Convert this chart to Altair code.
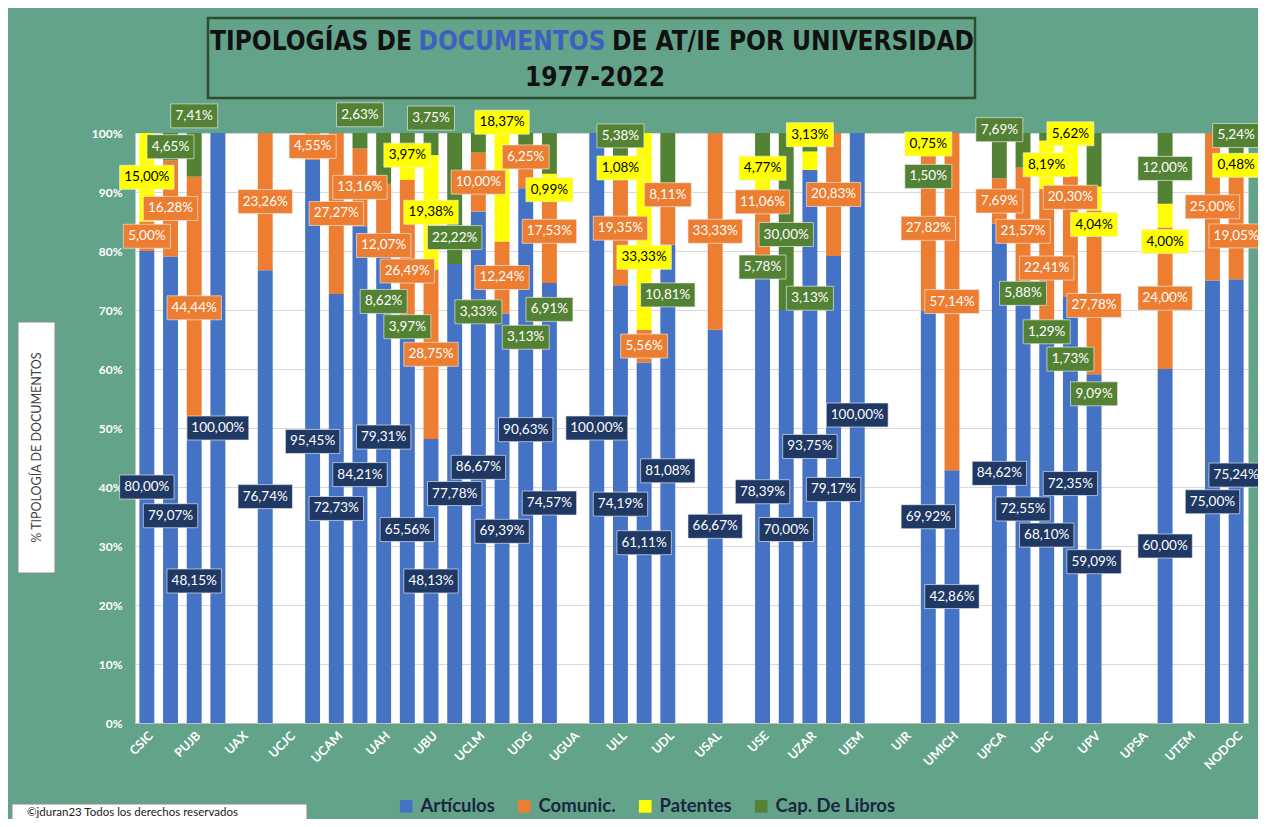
import json
import altair as alt
import pandas as pd

# ---------------- data ----------------
etiquetas = ["CSIC", "", "PUJB", "", "UAX", "", "UCJC", "", "UCAM", "", "UAH", "",
             "UBU", "", "UCLM", "", "UDG", "", "UGUA", "", "ULL", "", "UDL", "",
             "USAL", "", "USE", "", "UZAR", "", "UEM", "", "UIR", "", "UMICH", "",
             "UPCA", "", "UPC", "", "UPV", "", "UPSA", "", "UTEM", "", "NODOC"]

articulos = [80.00, 79.07, 48.15, 100.00, 0, 76.74, 0, 95.45, 72.73, 84.21, 79.31, 65.56,
             48.13, 77.78, 86.67, 69.39, 90.63, 74.57, 0, 100.00, 74.19, 61.11, 81.08, 0,
             66.67, 0, 78.39, 70.00, 93.75, 79.17, 100.00, 0, 0, 69.92, 42.86, 0,
             84.62, 72.55, 68.10, 72.35, 59.09, 0, 0, 60.00, 0, 75.00, 75.24]
comunic = [5.00, 16.28, 44.44, 0, 0, 23.26, 0, 4.55, 27.27, 13.16, 12.07, 26.49,
           28.75, 0, 10.00, 12.24, 6.25, 17.53, 0, 0, 19.35, 5.56, 8.11, 0,
           33.33, 0, 11.06, 0, 0, 20.83, 0, 0, 0, 27.82, 57.14, 0,
           7.69, 21.57, 22.41, 20.30, 27.78, 0, 0, 24.00, 0, 25.00, 19.05]
patentes = [15.00, 0, 0, 0, 0, 0, 0, 0, 0, 0, 0, 3.97,
            19.38, 0, 0, 18.37, 0, 0.99, 0, 0, 1.08, 33.33, 0, 0,
            0, 0, 4.77, 0, 3.13, 0, 0, 0, 0, 0.75, 0, 0,
            0, 0, 8.19, 5.62, 4.04, 0, 0, 4.00, 0, 0, 0.48]
cap_libros = [0, 4.65, 7.41, 0, 0, 0, 0, 0, 0, 2.63, 8.62, 3.97,
              3.75, 22.22, 3.33, 0, 3.13, 6.91, 0, 0, 5.38, 0, 10.81, 0,
              0, 0, 5.78, 30.00, 3.13, 0, 0, 0, 0, 1.50, 0, 0,
              7.69, 5.88, 1.29, 1.73, 9.09, 0, 0, 12.00, 0, 0, 5.24]

tipos = ["Artículos", "Comunic.", "Patentes", "Cap. De Libros"]
colores_barra = ["#4472C4", "#ED7D31", "#FFFF00", "#548235"]
colores_etiqueta = ["#203864", "#ED7D31", "#FFFF00", "#548235"]

titulo_1 = "TIPOLOGÍAS DE"
titulo_2 = "DOCUMENTOS"
titulo_3 = "DE AT/IE POR UNIVERSIDAD"
titulo_periodo = "1977-2022"
titulo_y = "% TIPOLOGÍA DE DOCUMENTOS"
copyright_txt = "©jduran23 Todos los derechos reservados"

# ---------------- table ----------------
series = [articulos, comunic, patentes, cap_libros]
n_slots = len(etiquetas)
totales = [sum(s[i] for s in series) for i in range(n_slots)]

PLOT_W, PLOT_H = 1113, 590
STEP = PLOT_W / n_slots
BOX_H = 24


def box_w(txt):
    return 7.4 * len(txt) + 10


rows = []
base_acum = [0.0] * n_slots
for orden, (tipo, serie) in enumerate(zip(tipos, series)):
    for slot, v in enumerate(serie):
        if v > 0:
            frac = v / totales[slot]
            mid = base_acum[slot] + frac / 2
            base_acum[slot] += frac
            rows.append({"slot": slot, "tipo": tipo, "orden": orden, "valor": v,
                         "mid": mid, "etiqueta": f"{v:.2f}".replace(".", ",") + "%"})

# greedy de-overlap of the value labels (like moving Excel labels by hand)
colocadas = []
desplazamientos = [0]
for k in range(1, 25):
    desplazamientos += [k, -k]
for r in rows:
    w = box_w(r["etiqueta"])
    px = r["slot"] * STEP
    elegido = r["mid"]
    for d in desplazamientos:
        cand = r["mid"] + d * 13 / PLOT_H
        if cand < 0.02 or cand > 1.035:
            continue
        py = cand * PLOT_H
        choca = any(abs(px - qx) < (w + qw) / 2 + 1 and abs(py - qy) < BOX_H + 1
                    for qx, qy, qw in colocadas)
        if not choca:
            elegido = cand
            break
    r["ylab"] = elegido
    colocadas.append((px, elegido * PLOT_H, w))

df = pd.DataFrame(rows)

BG = "#63A38A"
FONT = "Lato, Roboto, 'Noto Sans', sans-serif"
TFONT = "'DejaVu Sans Condensed', 'DejaVu Sans', sans-serif"
TSIZE = 26

label_expr = json.dumps(etiquetas) + "[datum.value]"

x_scale = alt.Scale(domain=list(range(n_slots)), paddingInner=0.37, paddingOuter=0.185)
y_scale = alt.Scale(domain=[0, 1])

bars = alt.Chart(df).mark_bar().encode(
    x=alt.X("slot:O", scale=x_scale, title=None,
            axis=alt.Axis(labelExpr=label_expr, labelAngle=-45, labelColor="white",
                          labelFont=FONT, labelFontSize=12.5, labelFontWeight="bold",
                          ticks=False, domainColor="#BFBFBF", grid=False, labelPadding=6)),
    y=alt.Y("valor:Q", stack="normalize", scale=y_scale, title=None,
            axis=alt.Axis(values=[i / 10 for i in range(11)], format=".0%", labelColor="white",
                          labelFont=FONT, labelFontSize=12, labelFontWeight="bold",
                          gridColor="#D9D9D9", domain=False, ticks=False, labelPadding=13)),
    color=alt.Color("tipo:N", scale=alt.Scale(domain=tipos, range=colores_barra),
                    legend=alt.Legend(title=None, orient="none", direction="horizontal",
                                      legendX=262, legendY=664, symbolType="square",
                                      symbolSize=160, symbolStrokeWidth=0,
                                      labelFont=FONT, labelFontSize=18.5, labelFontWeight="bold",
                                      labelColor="#1C2640", columnPadding=20, labelOffset=5)),
    order=alt.Order("orden:Q", sort="ascending"),
)

lab = alt.Chart(df).transform_calculate(
    hw="(7.4 * length(datum.etiqueta) + 10) / 24"
).transform_calculate(
    caja="'M' + (-datum.hw) + ',-1H' + datum.hw + 'V1H' + (-datum.hw) + 'Z'"
)

cajas = lab.mark_point(filled=True, size=576, opacity=1, stroke="#EDEDED",
                       strokeWidth=0.8, strokeOpacity=0.8).encode(
    x=alt.X("slot:O", scale=x_scale, title=None),
    y=alt.Y("ylab:Q", scale=y_scale, title=None),
    shape=alt.Shape("caja:N", scale=None),
    color=alt.Color("tipo:N", scale=alt.Scale(domain=tipos, range=colores_etiqueta), legend=None),
)

textos = lab.mark_text(font=FONT, fontSize=13.5, baseline="middle", align="center").encode(
    x=alt.X("slot:O", scale=x_scale, title=None),
    y=alt.Y("ylab:Q", scale=y_scale, title=None),
    text="etiqueta:N",
    color=alt.condition(alt.datum.tipo == "Patentes", alt.value("black"), alt.value("white")),
)

one = pd.DataFrame({"k": [0]})
base = alt.Chart(one)

caja_titulo = base.mark_rect(fill=BG, stroke="#2E4D2E", strokeWidth=2.5).encode(
    x=alt.value(73), x2=alt.value(840), y=alt.value(-115), y2=alt.value(-35))
t1 = base.mark_text(font=TFONT, fontSize=TSIZE, fontWeight="bold", align="right",
                    baseline="middle", color="#111111").encode(
    x=alt.value(277), y=alt.value(-91), text=alt.value(titulo_1))
t2 = base.mark_text(font=TFONT, fontSize=TSIZE, fontWeight="bold", align="center",
                    baseline="middle", color="#3F5FBF").encode(
    x=alt.value(377), y=alt.value(-91), text=alt.value(titulo_2))
t3 = base.mark_text(font=TFONT, fontSize=TSIZE, fontWeight="bold", align="left",
                    baseline="middle", color="#111111").encode(
    x=alt.value(477), y=alt.value(-91), text=alt.value(titulo_3))
t4 = base.mark_text(font=TFONT, fontSize=TSIZE, fontWeight="bold", align="center",
                    baseline="middle", color="#111111").encode(
    x=alt.value(460), y=alt.value(-55), text=alt.value(titulo_periodo))

caja_y = base.mark_rect(fill="white", stroke="#8C8C8C", strokeWidth=1).encode(
    x=alt.value(-117), x2=alt.value(-80), y=alt.value(189), y2=alt.value(440))
ty = base.mark_text(font=FONT, fontSize=12.5, angle=270, align="center",
                    baseline="middle", color="#404040").encode(
    x=alt.value(-98.5), y=alt.value(314.5), text=alt.value(titulo_y))

caja_c = base.mark_rect(fill="white", stroke="#8C8C8C", strokeWidth=1).encode(
    x=alt.value(-123), x2=alt.value(172), y=alt.value(671), y2=alt.value(700))
tc = base.mark_text(font=FONT, fontSize=11.5, align="left", baseline="middle",
                    color="#202020").encode(
    x=alt.value(-108), y=alt.value(680), text=alt.value(copyright_txt))

chart = alt.layer(
    bars, caja_titulo, t1, t2, t3, t4, caja_y, ty, caja_c, tc, cajas, textos
).resolve_scale(color="independent").properties(
    width=PLOT_W, height=PLOT_H,
    padding={"left": 127, "top": 125, "right": 10, "bottom": 96},
    autosize=alt.AutoSizeParams(type="none"),
    background=BG,
).configure_view(fill="white", strokeOpacity=0)

chart.save("out.html", embed_options={"renderer": "svg", "actions": False})
